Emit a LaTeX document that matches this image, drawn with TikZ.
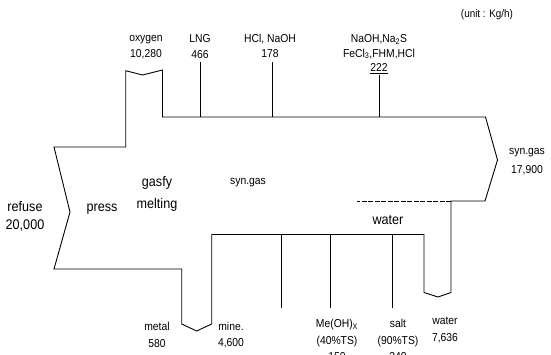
\documentclass[tikz,border=0pt]{standalone}
\usepackage{fontspec}
\setmainfont[FakeStretch=0.9]{Liberation Sans}
\begin{document}
\begin{tikzpicture}[x=1pt,y=-1pt,
  outline/.style={line width=0.9pt, line join=miter},
  feed/.style={line width=0.9pt},
  lbl/.style={inner sep=0pt, align=center, font=\fontsize{11.5}{16}\selectfont},
  big/.style={inner sep=0pt, align=center, font=\fontsize{14}{18}\selectfont}]
\useasboundingbox (0,0) rectangle (551,354);
% main outline
\draw[outline] (54,147) -- (125.7,147) -- (125.7,70.7) -- (142.5,75) -- (162.5,70)
  -- (162.5,117) -- (485.5,117) -- (497.5,160) -- (485,201) -- (451,201)
  -- (451,292.5) -- (438,297) -- (424,292.5) -- (424,234.5) -- (211.7,234.5)
  -- (211.7,324) -- (196.7,331) -- (181.7,324) -- (181.7,269) -- (54,269)
  -- (70,212) -- cycle;
% dotted water boundary
\coordinate (wd1) at (451,201);
\coordinate (wd2) at (357,201);
\draw[line width=0.7pt, dash pattern=on 5pt off 1.5pt] (wd1) -- (wd2);
% feed lines (top)
\coordinate (lngT) at (200,62);   \coordinate (lngB) at (200,117);
\coordinate (hclT) at (272.5,62); \coordinate (hclB) at (272.5,117);
\coordinate (naT) at (379.3,75);  \coordinate (naB) at (379.3,117);
\draw[feed] (lngT) -- (lngB);
\draw[feed] (hclT) -- (hclB);
\draw[feed] (naT) -- (naB);
% product lines (bottom)
\coordinate (p1T) at (281.7,234.5); \coordinate (p1B) at (281.7,308);
\coordinate (p2T) at (330,234.5);   \coordinate (p2B) at (330,308);
\coordinate (p3T) at (392.3,234.5); \coordinate (p3B) at (392.3,308);
\draw[feed] (p1T) -- (p1B);
\draw[feed] (p2T) -- (p2B);
\draw[feed] (p3T) -- (p3B);
% labels
\node[lbl, font=\fontsize{11}{14}\selectfont] (unit) at (487,15) {(unit : Kg/h)};
\node[lbl] (oxy) at (146,47) {oxygen\\10,280};
\node[lbl] (lng) at (200,47) {LNG\\466};
\node[lbl, font=\fontsize{11.5}{15}\selectfont] (hcl) at (270,46) {HCl, NaOH\\178};
\node[lbl, font=\fontsize{11.5}{14.5}\selectfont] (naoh) at (379,54) {NaOH,Na\textsubscript{2}S\\FeCl\textsubscript{3},FHM,HCl\\\underline{222}};
\node[lbl, font=\fontsize{11.5}{19}\selectfont] (synr) at (527,162) {syn.gas\\17,900};
\node[big] (refuse) at (25,216) {refuse\\20,000};
\node[big] (press) at (102,209) {press};
\node[big, font=\fontsize{14}{22}\selectfont] (gasfy) at (157,194) {gasfy\\melting};
\node[lbl] (synm) at (248,183) {syn.gas};
\node[big] (waterm) at (388,220) {water};
\node[lbl, font=\fontsize{11.5}{16.5}\selectfont] (metal) at (157,335) {metal\\580};
\node[lbl, font=\fontsize{11.5}{16.5}\selectfont] (mine) at (231,335) {mine.\\4,600};
\node[lbl, font=\fontsize{11.5}{16.5}\selectfont] (meoh) at (337,340) {Me(OH)\textsubscript{X}\\(40\%TS)\\150};
\node[lbl, font=\fontsize{11.5}{16.5}\selectfont] (salt) at (398,340) {salt\\(90\%TS)\\240};
\node[lbl, font=\fontsize{11.5}{16.5}\selectfont] (waterb) at (445,330) {water\\7,636};
\end{tikzpicture}
\end{document}
